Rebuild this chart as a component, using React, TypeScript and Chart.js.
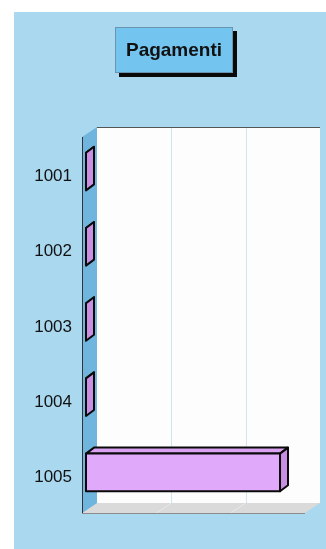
import React, { useEffect, useRef } from "react";
import { Chart, registerables } from "chart.js";

Chart.register(...registerables);

const categories = ["1001", "1002", "1003", "1004", "1005"];
const values = [0, 0, 0, 0, 261];
const xMin = 0;
const xMax = 300;
const xStep = 100;
const titleText = "Pagamenti";

const DX = 15;
const DY = -10;

const walls3D = {
  id: "walls3D",
  beforeDatasetsDraw(chart: any) {
    const { ctx, chartArea } = chart;
    const { left: L, right: R, top: T, bottom: B } = chartArea;
    const xs = chart.scales.x;
    ctx.save();
    ctx.fillStyle = "#fdfdfd";
    ctx.fillRect(L + DX, T + DY, R - L, B - T);
    ctx.strokeStyle = "#cfe6ee";
    ctx.lineWidth = 1;
    xs.ticks.forEach((t: any) => {
      if (t.value === xMin || t.value === xMax) return;
      const px = Math.round(xs.getPixelForValue(t.value)) + 0.5;
      ctx.beginPath();
      ctx.moveTo(px + DX, T + DY);
      ctx.lineTo(px + DX, B + DY);
      ctx.stroke();
    });
    ctx.strokeStyle = "#555";
    ctx.beginPath();
    ctx.moveTo(L + DX, T + DY + 0.5);
    ctx.lineTo(R + DX, T + DY + 0.5);
    ctx.stroke();
    ctx.fillStyle = "#dadada";
    ctx.beginPath();
    ctx.moveTo(L, B);
    ctx.lineTo(R, B);
    ctx.lineTo(R + DX, B + DY);
    ctx.lineTo(L + DX, B + DY);
    ctx.closePath();
    ctx.fill();
    ctx.strokeStyle = "#e8e8e8";
    xs.ticks.forEach((t: any) => {
      if (t.value === xMin || t.value === xMax) return;
      const px = xs.getPixelForValue(t.value);
      ctx.beginPath();
      ctx.moveTo(px, B);
      ctx.lineTo(px + DX, B + DY);
      ctx.stroke();
    });
    ctx.strokeStyle = "#8c8c8c";
    ctx.beginPath();
    ctx.moveTo(L, B + 0.5);
    ctx.lineTo(R, B + 0.5);
    ctx.stroke();
    ctx.fillStyle = "#6fb5dd";
    ctx.beginPath();
    ctx.moveTo(L, T);
    ctx.lineTo(L + DX, T + DY);
    ctx.lineTo(L + DX, B + DY);
    ctx.lineTo(L, B);
    ctx.closePath();
    ctx.fill();
    ctx.strokeStyle = "#333";
    ctx.lineWidth = 1;
    ctx.beginPath();
    ctx.moveTo(L + 0.5, T);
    ctx.lineTo(L + 0.5, B);
    ctx.stroke();
    ctx.restore();
  },
  afterDatasetsDraw(chart: any) {
    const { ctx } = chart;
    const meta = chart.getDatasetMeta(0);
    ctx.save();
    ctx.lineWidth = 2;
    ctx.strokeStyle = "#0a0a0a";
    ctx.lineJoin = "round";
    meta.data.forEach((el: any) => {
      const p = el.getProps(["x", "y", "base", "height"], true);
      const x0 = p.base + 4;
      const x1 = p.x + 4;
      const y0 = p.y - p.height / 2 - 3;
      const y1 = p.y + p.height / 2 - 3;
      const bx = 8;
      const by = -6;
      ctx.fillStyle = "#dca2f2";
      ctx.beginPath();
      ctx.moveTo(x0, y0);
      ctx.lineTo(x1, y0);
      ctx.lineTo(x1 + bx, y0 + by);
      ctx.lineTo(x0 + bx, y0 + by);
      ctx.closePath();
      ctx.fill();
      ctx.stroke();
      ctx.fillStyle = "#c98fe0";
      ctx.beginPath();
      ctx.moveTo(x1, y0);
      ctx.lineTo(x1 + bx, y0 + by);
      ctx.lineTo(x1 + bx, y1 + by);
      ctx.lineTo(x1, y1);
      ctx.closePath();
      ctx.fill();
      ctx.stroke();
      if (x1 - x0 > 0.5) {
        ctx.fillStyle = "#e1a9f9";
        ctx.fillRect(x0, y0, x1 - x0, y1 - y0);
        ctx.strokeRect(x0, y0, x1 - x0, y1 - y0);
      }
    });
    ctx.restore();
  },
  afterDraw(chart: any) {
    const { ctx } = chart;
    ctx.save();
    const bx = 101, by = 15, bw = 118, bh = 46;
    ctx.fillStyle = "#0a0a0a";
    ctx.fillRect(bx + 4, by + 4, bw, bh);
    ctx.fillStyle = "#74c4f0";
    ctx.fillRect(bx, by, bw, bh);
    ctx.strokeStyle = "#6a94b0";
    ctx.lineWidth = 1;
    ctx.strokeRect(bx + 0.5, by + 0.5, bw - 1, bh - 1);
    ctx.fillStyle = "#111";
    ctx.font = "bold 19px 'Liberation Sans', Arial, sans-serif";
    ctx.textAlign = "center";
    ctx.textBaseline = "middle";
    ctx.fillText(titleText, bx + bw / 2, by + bh / 2 + 1);
    ctx.restore();
  },
};

const bgPlugin = {
  id: "bgFill",
  beforeDraw(chart: any) {
    const { ctx, width, height } = chart;
    ctx.save();
    ctx.fillStyle = "#a9d8ef";
    ctx.fillRect(0, 0, width, height);
    ctx.restore();
  },
};

export default function App() {
  const ref = useRef<HTMLCanvasElement>(null);
  useEffect(() => {
    if (!ref.current) return;
    const chart = new Chart(ref.current, {
      type: "bar",
      data: {
        labels: categories,
        datasets: [
          {
            data: values,
            backgroundColor: "rgba(0,0,0,0)",
            borderWidth: 0,
            barPercentage: 0.5,
            categoryPercentage: 1,
          },
        ],
      },
      options: {
        indexAxis: "y",
        responsive: false,
        animation: false,
        events: [],
        layout: { padding: { top: 125, bottom: 36, right: 21, left: 0 } },
        plugins: {
          legend: { display: false },
          title: { display: false },
          tooltip: { enabled: false },
        },
        scales: {
          x: {
            display: false,
            min: xMin,
            max: xMax,
            ticks: { stepSize: xStep },
          },
          y: {
            display: true,
            grid: { display: false, drawTicks: false },
            border: { display: false },
            ticks: {
              padding: 10,
              labelOffset: 2,
              color: "#111",
              font: { family: "'Liberation Sans', Arial, sans-serif", size: 17 },
            },
            afterFit: (s: any) => {
              s.width = 68;
            },
          },
        },
      },
      plugins: [bgPlugin, walls3D],
    });
    return () => chart.destroy();
  }, []);
  return (
    <div style={{ position: "absolute", left: 14, top: 12, width: 312, height: 537 }}>
      <canvas ref={ref} width={312} height={537} />
    </div>
  );
}
